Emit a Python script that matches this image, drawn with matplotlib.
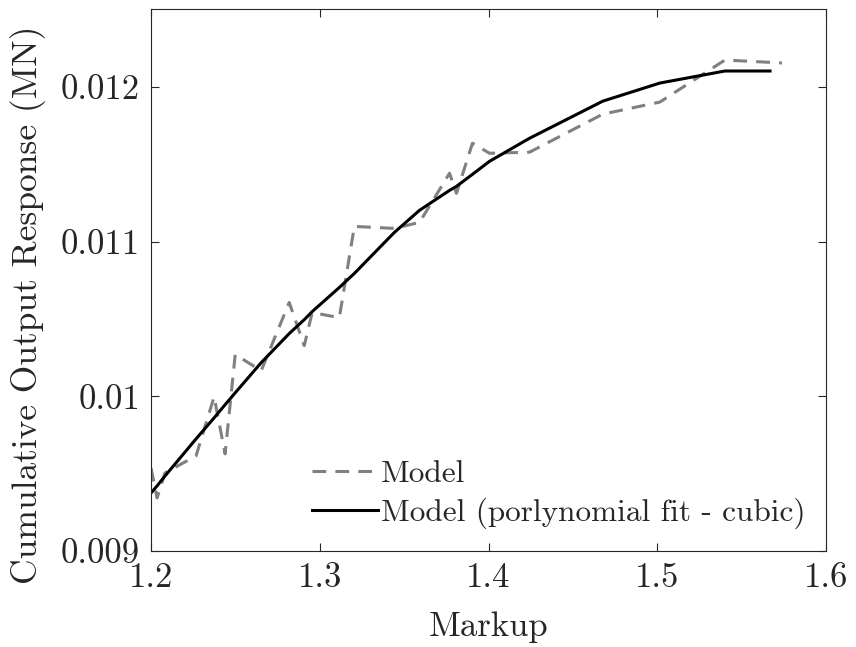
import matplotlib
matplotlib.use("Agg")
import matplotlib.pyplot as plt

plt.rcParams['font.family'] = ['cmr10', 'DejaVu Serif']
plt.rcParams['mathtext.fontset'] = 'cm'
plt.rcParams['axes.formatter.use_mathtext'] = True

# Model (dashed) data
model_x = [1.2000, 1.2036, 1.2083, 1.2267, 1.2374, 1.2439, 1.2499, 1.2653, 1.2819,
           1.2908, 1.2955, 1.3116, 1.3205, 1.3442, 1.3591, 1.3769, 1.3810, 1.3905,
           1.4006, 1.4243, 1.4677, 1.5015, 1.5401, 1.5739]
model_y = [0.009537, 0.009343, 0.009505, 0.009615, 0.009997, 0.009628, 0.010270,
           0.010166, 0.010607, 0.010328, 0.010542, 0.010509, 0.011099, 0.011086,
           0.011125, 0.011443, 0.011313, 0.011637, 0.011572, 0.011579, 0.011825,
           0.011903, 0.012175, 0.012156]

# Cubic fit (solid) data
fit_x = [1.2000, 1.2036, 1.2083, 1.2267, 1.2374, 1.2439, 1.2499, 1.2653, 1.2819,
         1.2908, 1.2955, 1.3116, 1.3205, 1.3442, 1.3591, 1.3769, 1.3810, 1.3905,
         1.4006, 1.4243, 1.4677, 1.5015, 1.5401, 1.5668]
fit_y = [0.009375, 0.009421, 0.009485, 0.009725, 0.009861, 0.009946, 0.010023,
         0.010218, 0.010406, 0.010496, 0.010548, 0.010704, 0.010795, 0.011060,
         0.011203, 0.011332, 0.011358, 0.011436, 0.011520, 0.011669, 0.011909,
         0.012026, 0.012104, 0.012104]

xticks = [1.2, 1.3, 1.4, 1.5, 1.6]
xtick_labels = ['1.2', '1.3', '1.4', '1.5', '1.6']
yticks = [0.009, 0.010, 0.011, 0.012]
ytick_labels = ['0.009', '0.01', '0.011', '0.012']

fig = plt.figure(figsize=(8.56, 6.47), dpi=100)
ax = fig.add_axes([0.1764, 0.1484, 0.965 - 0.1764, 0.9861 - 0.1484])

ax.plot(model_x, model_y, color='#808080', lw=2.2, linestyle=(0, (4.5, 3)), label='Model')
ax.plot(fit_x, fit_y, color='black', lw=2.2, label='Model (porlynomial fit - cubic)')

ax.set_xlim(1.2, 1.6)
ax.set_ylim(0.009, 0.012505)
ax.set_xticks(xticks)
ax.set_xticklabels(xtick_labels)
ax.set_yticks(yticks)
ax.set_yticklabels(ytick_labels)

ax.tick_params(direction='in', top=True, right=True, length=6, width=0.8,
               labelsize=25, colors='#262626', pad=8)
for s in ax.spines.values():
    s.set_color('#262626')
    s.set_linewidth(0.8)

ax.set_xlabel('Markup', fontsize=25, color='#262626', labelpad=13)
ax.set_ylabel('Cumulative Output Response (MN)', fontsize=25.5, color='#262626')
ax.yaxis.set_label_coords(-0.155, 0.455)

leg = ax.legend(loc='lower right', frameon=False, fontsize=22.5, handlelength=2.1,
                handletextpad=0.08, labelspacing=0.3, borderpad=0, borderaxespad=0,
                bbox_to_anchor=(0.969, 0.041))
for t in leg.get_texts():
    t.set_color('#262626')

fig.savefig('out.png', dpi=100)
